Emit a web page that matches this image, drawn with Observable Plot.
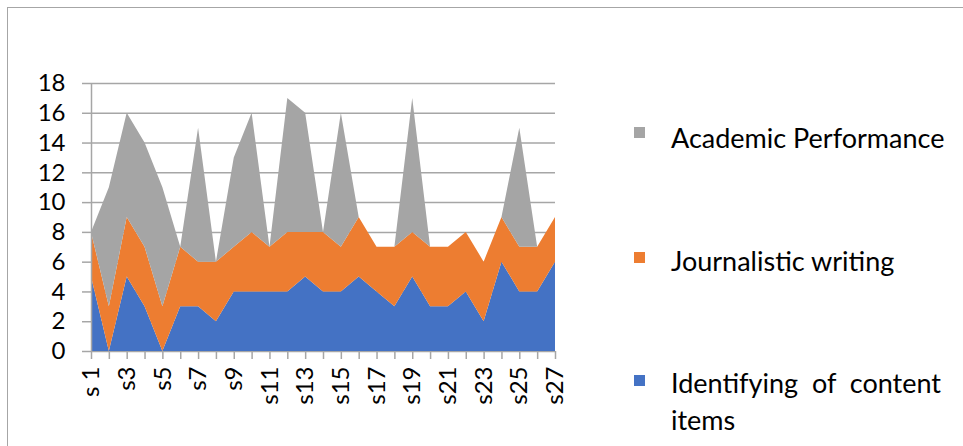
<!DOCTYPE html>
<html>
<head>
<meta charset="utf-8">
<script src="https://cdn.jsdelivr.net/npm/d3@7"></script>
<script src="https://cdn.jsdelivr.net/npm/@observablehq/plot@0.6"></script>
<style>
  html, body { margin: 0; padding: 0; background: #fff; }
  #wrap { position: relative; width: 963px; height: 446px; overflow: hidden; font-family: Lato, "Open Sans", sans-serif; }
  #frame { position: absolute; left: 7px; top: 7px; width: 980px; height: 460px; border-left: 1.5px solid #a6a6a6; border-top: 1.5px solid #a6a6a6; }
  #chart { position: absolute; left: 0; top: 0; }
  .sw { position: absolute; width: 11px; height: 11px; }
  .lt { position: absolute; font-size: 27px; line-height: 37px; color: #000; white-space: nowrap; }
  .lt.wrap { white-space: normal; text-align: justify; width: 270px; }
</style>
</head>
<body>
<div id="wrap">
  <div id="frame"></div>
  <div id="chart"></div>
  <div id="legend"></div>
</div>
<script>
const categories = ["s 1","s2","s3","s4","s5","s6","s7","s8","s9","s10","s11","s12","s13","s14","s15","s16","s17","s18","s19","s20","s21","s22","s23","s24","s25","s26","s27"];
const seriesNames = ["Identifying of content items", "Journalistic writing", "Academic Performance"];
const seriesColors = ["#4472C4", "#ED7D31", "#A5A5A5"];
const identifying = [5,0,5,3,0,3,3,2,4,4,4,4,5,4,4,5,4,3,5,3,3,4,2,6,4,4,6];
const journalistic = [3,3,4,4,3,4,3,4,3,4,3,4,3,4,3,4,3,4,3,4,4,4,4,3,3,3,3];
const academic = [0,8,7,7,8,0,9,0,6,8,0,9,8,0,9,0,0,0,9,0,0,0,0,0,8,0,0];
const yTicks = [0,2,4,6,8,10,12,14,16,18];

const seriesValues = [identifying, journalistic, academic];
const rows = [];
seriesNames.forEach((name, si) => {
  categories.forEach((c, i) => rows.push({idx: i + 1, series: name, value: seriesValues[si][i]}));
});
const xIdx = categories.map((c, i) => i + 1);
const first = 1, last = categories.length;

const gridColor = "#a6a6a6";
const chart = Plot.plot({
  width: 600,
  height: 446,
  marginLeft: 91,
  marginRight: 45,
  marginTop: 83,
  marginBottom: 95,
  style: {fontFamily: "Lato, 'Open Sans', sans-serif", fontSize: "24px", color: "#000", background: "transparent"},
  x: {type: "linear", domain: [first, last]},
  y: {domain: [0, 18]},
  color: {domain: seriesNames, range: seriesColors},
  marks: [
    Plot.ruleY(yTicks, {y: d => d, x1: first, x2: last, stroke: gridColor, strokeWidth: 1.5}),
    Plot.areaY(rows, {x: "idx", y: "value", fill: "series", z: "series"}),
    Plot.axisY({ticks: yTicks, tickSize: 9, tickPadding: 17, stroke: gridColor, strokeWidth: 1.5, strokeOpacity: 1, fill: "#000", fontSize: 24, label: null}),
    Plot.axisX({ticks: xIdx, tickSize: 8, tickPadding: 7, tickRotate: -90, stroke: gridColor, strokeWidth: 1.5, strokeOpacity: 1, fill: "#000", fontSize: 24, label: null,
      tickFormat: (d) => (d - 1) % 2 === 0 ? categories[d - 1] : ""}),
    Plot.ruleX([first], {y1: 0, y2: 18, stroke: gridColor, strokeWidth: 1.5})
  ]
});
document.getElementById("chart").appendChild(chart);

// legend (top to bottom: reverse stacking order)
const legend = document.getElementById("legend");
const swTops = [375, 252, 127];
const txtTops = [364, 242, 119];
[2, 1, 0].forEach((si) => {
  const sw = document.createElement("div");
  sw.className = "sw";
  sw.style.left = "634px";
  sw.style.top = swTops[si] + "px";
  sw.style.background = seriesColors[si];
  legend.appendChild(sw);
  const t = document.createElement("div");
  t.className = "lt" + (si === 0 ? " wrap" : "");
  t.style.left = "671px";
  t.style.top = txtTops[si] + "px";
  t.textContent = seriesNames[si];
  legend.appendChild(t);
});
</script>
</body>
</html>
